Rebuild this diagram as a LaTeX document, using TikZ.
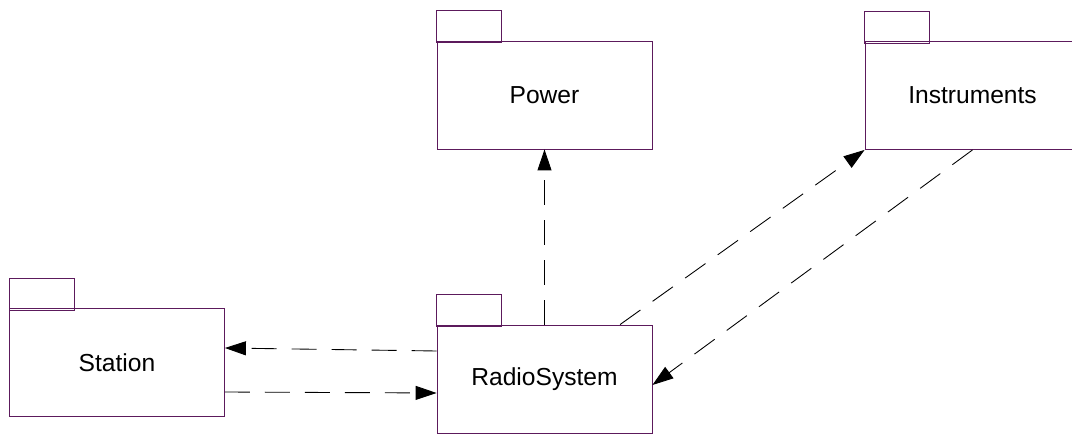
\documentclass[tikz,border=0pt]{standalone}
\usepackage{fontspec}
\setmainfont{Liberation Sans}
\usetikzlibrary{arrows.meta,calc}
\definecolor{plum}{HTML}{5C1A5C}
\tikzset{
  pkg/.style={draw=plum,fill=white,line width=0.5pt,minimum width=4.3cm,minimum height=2.16cm,inner sep=0,font=\fontsize{14}{16}\selectfont},
  tab/.style={draw=plum,line width=0.5pt},
  dep/.style={-{Triangle[length=4.2mm,width=2.8mm]},draw=black,line width=0.5pt,dash pattern=on 5mm off 3mm}}

\begin{document}
\begin{tikzpicture}[x=0.02cm,y=-0.02cm]
  \useasboundingbox (0,0) rectangle (1072,435);
  \node[pkg] (power) at (544.5,95) {Power};
  \node[pkg] (instr) at (972.5,95.5) {Instruments};
  \node[pkg] (station) at (117,362.5) {Station};
  \node[pkg] (radio) at (544.5,379) {RadioSystem};
  \foreach \p in {power,instr,station,radio}{
    \draw[tab] ($(\p.north west)+(0,2)$) rectangle ++(65,-32);}
  \draw[dep] (radio.north) -- (power.south);
  \draw[dep] ($(radio.west)+(0,-28)$) -- ($(station.east)+(0,-14.5)$);
  \draw[dep] ($(station.east)+(0,29.5)$) -- ($(radio.west)+(0,14)$);
  \draw[dep] ($(radio.north west)!0.85!(radio.north east)$) -- (instr.south west);
  \draw[dep] (instr.south) -- ($(radio.east)+(0,6)$);
\end{tikzpicture}
\end{document}
